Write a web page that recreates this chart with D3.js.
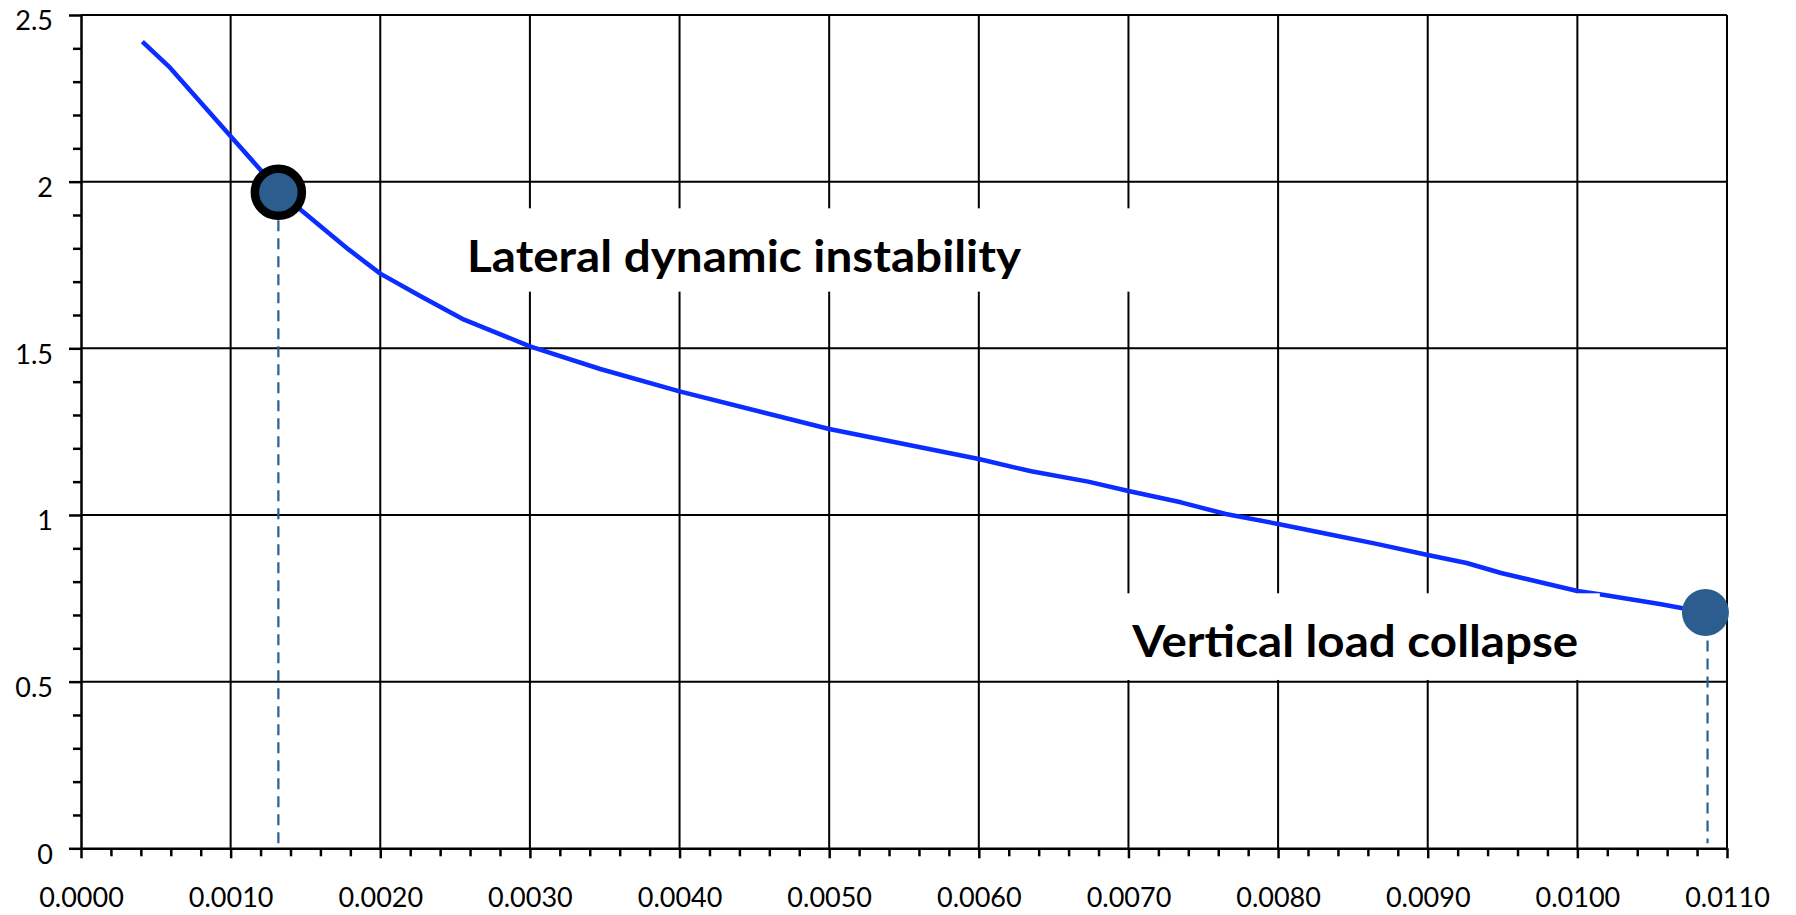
<!DOCTYPE html>
<html lang="en">
<head>
    <meta charset="UTF-8">
    <title>load vs displacement</title>
    <script src="https://cdn.jsdelivr.net/npm/d3@7"></script>
    <style>
        body{
            margin: 0;
            background: #ffffff;
        }
        .grid line{
            stroke: #000;
            stroke-width: 2;
        }
        .axis path, .axis line{
            stroke: #000;
            stroke-width: 2.5;
        }
        .axis text{
            font-family: Lato, "Open Sans", sans-serif;
            font-size: 27px;
            fill: #000;
        }
        .note{
            font-family: Lato, "Open Sans", sans-serif;
            font-weight: bold;
            font-size: 44px;
            fill: #000;
        }
    </style>
</head>
<body>
<svg width="1796" height="915" id="chart"></svg>

<script>
    // curve: drift (x) against load factor (y)
    let drift = [0.00041, 0.000595, 0.0010, 0.00132, 0.00148, 0.00179, 0.0020, 0.00227,
        0.00256, 0.0030, 0.00347, 0.0040, 0.0050, 0.0056, 0.0060, 0.00635, 0.00673,
        0.0070, 0.00735, 0.00765, 0.0080, 0.00834, 0.00865, 0.0090, 0.00926, 0.00949, 0.0100,
        0.01018, 0.01056, 0.010856]
    let load = [2.42, 2.342, 2.136, 1.975, 1.911, 1.796, 1.724, 1.656,
        1.586, 1.506, 1.438, 1.371, 1.258, 1.204, 1.168, 1.131, 1.10,
        1.072, 1.038, 1.003, 0.973, 0.942, 0.914, 0.880, 0.856, 0.826, 0.772,
        0.760, 0.732, 0.7075]

    // the two marked points
    let pointNames = ["Lateral dynamic instability", "Vertical load collapse"]
    let pointX = [0.001319, 0.010856]
    let pointY = [1.968, 0.7075]
    let dropX = [0.001319, 0.01087]

    // axes
    let xMajor = [0, 0.001, 0.002, 0.003, 0.004, 0.005, 0.006, 0.007, 0.008, 0.009, 0.010, 0.011]
    let xLabels = ["0.0000", "0.0010", "0.0020", "0.0030", "0.0040", "0.0050", "0.0060",
        "0.0070", "0.0080", "0.0090", "0.0100", "0.0110"]
    let yMajor = [0, 0.5, 1, 1.5, 2, 2.5]
    let yLabels = ["0", "0.5", "1", "1.5", "2", "2.5"]

    let svg = d3.select("#chart")

    let x_scale = d3.scaleLinear()
        .domain([0, 0.011])
        .range([81, 1727])
    let y_scale = d3.scaleLinear()
        .domain([0, 2.5])
        .range([848.3, 15])

    // grid
    let grid = svg.append("g").attr("class", "grid")
    grid.selectAll(".v")
        .data(xMajor.slice(1))
        .join("line")
        .attr("class", "v")
        .attr("x1", d => x_scale(d)).attr("x2", d => x_scale(d))
        .attr("y1", y_scale(2.5)).attr("y2", y_scale(0))
    grid.selectAll(".h")
        .data(yMajor.slice(1))
        .join("line")
        .attr("class", "h")
        .attr("x1", x_scale(0)).attr("x2", x_scale(0.011))
        .attr("y1", d => y_scale(d)).attr("y2", d => y_scale(d))

    // minor ticks
    let xMinor = d3.range(0, 56).map(i => i * 0.0002).filter((d, i) => i % 5 !== 0)
    let yMinor = d3.range(0, 26).map(i => i * 0.1).filter((d, i) => i % 5 !== 0)

    svg.append("g")
        .attr("class", "axis")
        .attr("transform", `translate(0,${y_scale(0)})`)
        .call(d3.axisBottom(x_scale).tickValues(xMinor).tickSize(8).tickSizeOuter(0).tickFormat(""))
        .call(g => g.select(".domain").remove())
    svg.append("g")
        .attr("class", "axis")
        .attr("transform", `translate(${x_scale(0)},0)`)
        .call(d3.axisLeft(y_scale).tickValues(yMinor).tickSize(8).tickSizeOuter(0).tickFormat(""))
        .call(g => g.select(".domain").remove())

    // major axes
    svg.append("g")
        .attr("class", "axis")
        .attr("transform", `translate(0,${y_scale(0)})`)
        .call(d3.axisBottom(x_scale).tickValues(xMajor).tickSize(10).tickSizeOuter(0)
            .tickPadding(30).tickFormat((d, i) => xLabels[i]))
    svg.append("g")
        .attr("class", "axis")
        .attr("transform", `translate(${x_scale(0)},0)`)
        .call(d3.axisLeft(y_scale).tickValues(yMajor).tickSize(12).tickSizeOuter(0)
            .tickPadding(16).tickFormat((d, i) => yLabels[i]))
        .call(g => g.selectAll("text").attr("dy", "0.55em"))

    // curve
    let curve = d3.line()
        .x((d, i) => x_scale(drift[i]))
        .y((d, i) => y_scale(load[i]))
    svg.append("path")
        .attr("d", curve(drift))
        .attr("fill", "none")
        .attr("stroke", "#0b2dff")
        .attr("stroke-width", 4.5)
        .attr("stroke-linejoin", "round")

    // white boxes behind the notes
    let boxes = [
        {x0: 0.00250, x1: 0.00708, y0: 1.92, y1: 1.67, tx: 0.00258, ty: 1.73, w: 554},
        {x0: 0.00693, x1: 0.01015, y0: 0.765, y1: 0.505, tx: 0.007025, ty: 0.575, w: 446}
    ]
    svg.selectAll(".box")
        .data(boxes)
        .join("rect")
        .attr("class", "box")
        .attr("x", d => x_scale(d.x0))
        .attr("y", d => y_scale(d.y0))
        .attr("width", d => x_scale(d.x1) - x_scale(d.x0))
        .attr("height", d => y_scale(d.y1) - y_scale(d.y0))
        .attr("fill", "#fff")
    svg.selectAll(".note")
        .data(boxes)
        .join("text")
        .attr("class", "note")
        .attr("x", d => x_scale(d.tx))
        .attr("y", d => y_scale(d.ty))
        .attr("textLength", d => d.w)
        .attr("lengthAdjust", "spacingAndGlyphs")
        .text((d, i) => pointNames[i])

    // dashed drop lines
    svg.selectAll(".drop")
        .data(pointY)
        .join("line")
        .attr("class", "drop")
        .attr("x1", (d, i) => x_scale(dropX[i])).attr("x2", (d, i) => x_scale(dropX[i]))
        .attr("y1", d => y_scale(d) + 28).attr("y2", y_scale(0) - 5)
        .attr("stroke", "#2c5f8f")
        .attr("stroke-width", 2.2)
        .attr("stroke-dasharray", "11,7")

    // markers
    svg.selectAll(".marker")
        .data(pointY)
        .join("circle")
        .attr("class", "marker")
        .attr("cx", (d, i) => x_scale(pointX[i]))
        .attr("cy", d => y_scale(d))
        .attr("r", 23.5)
        .attr("fill", "#2b5e8f")
        .attr("stroke", (d, i) => i === 0 ? "#000" : "none")
        .attr("stroke-width", 8.5)
</script>
</body>
</html>
